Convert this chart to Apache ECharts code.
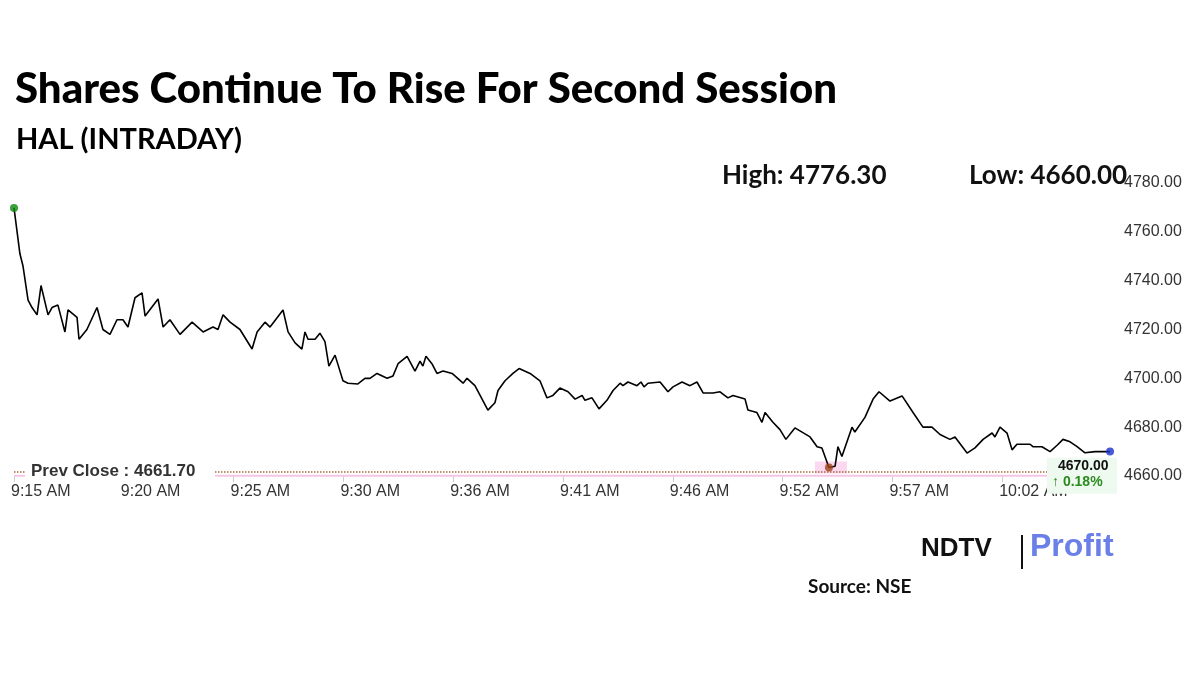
<!DOCTYPE html>
<html><head><meta charset="utf-8">
<script src="https://cdn.jsdelivr.net/npm/echarts@6/dist/echarts.min.js"></script>
<style>html,body{margin:0;background:#fff}#c{width:1200px;height:675px}</style>
</head><body><div id="c"></div>
<script>
const timeLabels = ['9:15 AM','9:20 AM','9:25 AM','9:30 AM','9:36 AM','9:41 AM','9:46 AM','9:52 AM','9:57 AM','10:02 AM'];
const samplePos = [0,0.27,0.41,0.64,0.82,1.05,1.23,1.55,1.73,2.00,2.32,2.46,2.87,2.96,3.32,3.78,4.05,4.37,4.69,4.96,5.19,5.51,5.83,5.97,6.56,6.79,7.10,7.56,8.11,8.61,9.06,9.29,9.52,9.84,10.29,10.84,11.07,11.43,11.66,12.25,12.48,12.80,13.11,13.25,13.39,13.71,13.93,14.16,14.34,14.62,14.98,15.21,15.66,15.98,16.21,16.53,16.99,17.26,17.49,17.90,18.26,18.49,18.62,18.76,19.03,19.26,19.54,19.95,20.45,20.63,20.99,21.58,21.90,22.04,22.36,22.72,23.00,23.50,23.95,24.27,24.54,24.86,25.23,25.55,25.87,26.00,26.32,26.64,27.00,27.28,27.60,27.73,27.96,28.37,28.55,28.69,28.87,29.42,29.78,30.01,30.42,30.78,31.10,31.38,31.83,32.15,32.51,32.74,33.29,33.42,33.83,34.06,34.20,34.56,34.88,35.15,35.56,36.25,36.57,36.79,37.11,37.39,37.52,37.70,38.16,38.29,38.75,39.12,39.39,39.89,40.44,40.94,41.39,41.80,42.17,42.62,42.85,43.40,43.76,44.13,44.54,44.67,44.90,45.22,45.45,45.67,46.27,46.40,46.81,47.18,47.50,47.77,48.09,48.41,48.77,49.23,49.91];
const prices = [4769.8,4751,4746,4732,4729,4726,4738,4726,4729,4730,4719,4728,4725,4716,4720,4729,4720,4718,4724,4724,4721,4733,4735,4725.5,4732.5,4721,4724,4718,4723,4719,4721,4720,4726,4723,4720,4712,4719,4723,4721,4728,4719,4714.5,4712,4719,4716,4716,4718.5,4715,4705,4709.5,4699,4698,4697.7,4700,4700,4702,4700,4701,4706,4709,4703,4707,4705,4709,4706,4702,4703,4702,4698,4700,4697,4687,4690,4695,4699,4702,4704,4702,4699,4692,4693,4696,4694.5,4691.5,4693,4691,4692,4687.5,4691,4695,4698,4697,4698.5,4697,4698.5,4696.5,4698,4698.5,4694.5,4696.5,4698.5,4697,4698.5,4694,4694,4694.5,4692,4693,4691.5,4687,4686,4682,4686,4682,4679,4675,4679.7,4676,4672,4671.5,4663.5,4664,4672,4668,4680,4678,4684,4691.5,4694.5,4690.7,4692.8,4686,4680,4680,4677,4675,4676,4669.4,4671.5,4675,4677.6,4676,4680,4677.6,4670.7,4673,4673,4672,4672,4670,4672.6,4675,4674,4672,4669.5,4670,4670];
const prevClose = 4661.70;
const highVal = '4776.30', lowVal = '4660.00', lastVal = '4670.00', changePct = '0.18%';

let minI = 0; prices.forEach((p,i)=>{ if(p<prices[minI]) minI=i; });
const lastI = prices.length-1;
const lineData = prices.map((p,i)=>[samplePos[i],p]);
const dots = [
  {value:lineData[0], itemStyle:{color:'#0a8a0a'}},
  {value:lineData[minI], itemStyle:{color:'#a0421a'}},
  {value:lineData[lastI], itemStyle:{color:'#1a2fd0'}}
];
const chart = echarts.init(document.getElementById('c'));
const bold = 'Lato';
chart.setOption({
  animation:false,
  title:[
    {text:'Shares Continue To Rise For Second Session',left:10,top:63,textStyle:{fontFamily:bold,fontWeight:900,fontSize:42,color:'#000'}},
    {text:'HAL (INTRADAY)',left:11,top:120,textStyle:{fontFamily:bold,fontWeight:'bold',fontSize:29,color:'#000'}},
    {text:'High: '+highVal,left:717,top:158,textStyle:{fontFamily:bold,fontWeight:'bold',fontSize:26,color:'#111'}},
    {text:'Low: '+lowVal,left:964,top:158,textStyle:{fontFamily:bold,fontWeight:'bold',fontSize:26,color:'#111'}},
    {text:'Source: NSE',left:803,top:572,textStyle:{fontFamily:bold,fontWeight:'bold',fontSize:19,color:'#111'}}
  ],
  grid:{left:14,right:88,top:183,bottom:199,outerBoundsMode:'none',containLabel:false},
  xAxis:{type:'value',min:0,max:50,interval:5,
    axisLine:{show:false},splitLine:{show:false},
    axisTick:{show:true,length:6,lineStyle:{color:'#ccc'}},
    axisLabel:{formatter:v=>timeLabels[Math.round(v/5)]||'',fontFamily:'Liberation Sans',fontSize:16,color:'#333',margin:8,align:'left',padding:[0,0,0,-3],showMaxLabel:false}},
  yAxis:{type:'value',position:'right',min:4660,max:4780,interval:20,
    axisLine:{show:false},axisTick:{show:false},splitLine:{show:false},
    axisLabel:{formatter:v=>v.toFixed(2),fontFamily:'Liberation Sans',fontSize:16,color:'#333',margin:12}},
  series:[
    {type:'line',data:lineData,showSymbol:false,lineStyle:{color:'#000',width:1.6},z:3,
     markLine:{silent:true,symbol:'none',label:{show:false},
       data:[{yAxis:prevClose,lineStyle:{color:'#a86b3a',type:'dotted',width:1.5}}]}},
    {type:'scatter',data:dots,symbolSize:8,z:5}
  ]
});
const pc = chart.convertToPixel({xAxisIndex:0,yAxisIndex:0},[0,prevClose]);
const mp = chart.convertToPixel({xAxisIndex:0,yAxisIndex:0},lineData[minI]);
chart.setOption({graphic:[
  {type:'text',left:921,top:536,style:{text:'NDTV',font:'900 26px "Liberation Sans"',fill:'#111'}},
  {type:'rect',shape:{x:1021,y:535,width:2,height:34},style:{fill:'#111'}},
  {type:'text',left:1030,top:531,style:{text:'Profit',font:'bold 32px "Liberation Sans"',fill:'#6a7fe8'}},
  {type:'rect',shape:{x:14,y:pc[1]+3,width:1098,height:2},style:{fill:'#f6c6e6'},z:1},
  {type:'rect',shape:{x:mp[0]-14,y:mp[1]-6,width:32,height:12},style:{fill:'#fbd7f0'},z:1},
  {type:'rect',shape:{x:25,y:pc[1]-10,width:190,height:20},style:{fill:'#fff'},z:10},
  {type:'text',x:31,y:pc[1]-9,style:{text:'Prev Close : '+prevClose.toFixed(2),font:'bold 17px "Liberation Sans"',fill:'#333'},z:11},
  {type:'rect',shape:{x:1047,y:pc[1]-14,width:70,height:36},style:{fill:'#eefaf0'},z:10},
  {type:'text',x:1058,y:pc[1]-13,style:{text:lastVal,font:'bold 14px "Liberation Sans"',fill:'#111'},z:11},
  {type:'text',x:1052,y:pc[1]+3,style:{text:'↑ '+changePct,font:'bold 14px "Liberation Sans"',fill:'#2b8a1f'},z:11}
]});
</script></body></html>
